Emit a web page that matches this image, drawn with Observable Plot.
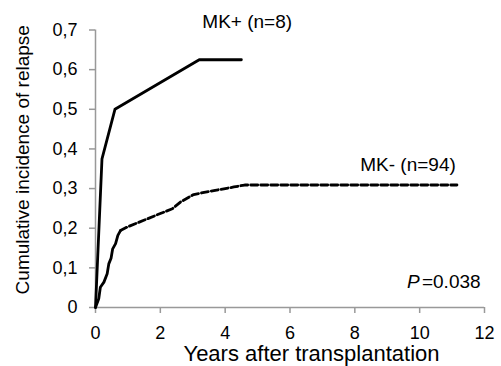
<!DOCTYPE html>
<html><head><meta charset="utf-8">
<script src="https://cdn.jsdelivr.net/npm/d3@7"></script>
<script src="https://cdn.jsdelivr.net/npm/@observablehq/plot@0.6"></script>
<style>body{margin:0;background:#fff} svg{display:block}</style>
</head><body><div id="chart"></div>
<script>
const mkPlusYears = [0, 0.2, 0.6, 3.2, 4.5];
const mkPlusCI    = [0, 0.375, 0.5, 0.625, 0.625];
const mkMinusYears = [0, 0.10, 0.15, 0.26, 0.36, 0.41, 0.48, 0.53, 0.62, 0.69, 0.77, 0.98, 1.49, 2.0, 2.37, 2.62, 3.03, 3.65, 4.27, 4.6, 11.15];
const mkMinusCI    = [0, 0.022, 0.051, 0.064, 0.085, 0.110, 0.124, 0.148, 0.161, 0.182, 0.194, 0.203, 0.220, 0.237, 0.249, 0.266, 0.285, 0.295, 0.304, 0.309, 0.309];
const xTicks = [0, 2, 4, 6, 8, 10, 12];
const yTicks = [0, 0.1, 0.2, 0.3, 0.4, 0.5, 0.6, 0.7];
const groupLabels = ["MK+ (n=8)", "MK- (n=94)"];
const groupLabelX = [4.68, 9.64];
const groupLabelY = [0.72, 0.359];
const pText = "=0.038";
const pX = 11.88, pY = 0.064;

const plus = mkPlusYears.map((x, i) => ({x, y: mkPlusCI[i]}));
const minus = mkMinusYears.map((x, i) => ({x, y: mkMinusCI[i]}));
const labels = groupLabels.map((t, i) => ({t, x: groupLabelX[i], y: groupLabelY[i]}));
const fmt = d => d === 0 ? "0" : d.toFixed(1).replace(".", ",");
const axisColor = "#999";
const font = "Liberation Sans, Arial, sans-serif";

const chart = Plot.plot({
  width: 501, height: 366,
  marginLeft: 95, marginRight: 17, marginTop: 29.5, marginBottom: 59,
  style: {fontFamily: font, color: "black", background: "white", overflow: "visible"},
  x: {domain: [0, 12]},
  y: {domain: [0, 0.7]},
  marks: [
    Plot.axisY({ticks: yTicks, tickFormat: fmt, tickSize: 6, tickPadding: 12, stroke: axisColor, strokeWidth: 1.5, fontSize: 18, label: null}),
    Plot.axisX({ticks: xTicks, tickFormat: d => String(d), tickSize: 6, tickPadding: 13, stroke: axisColor, strokeWidth: 1.5, fontSize: 18, label: null}),
    Plot.ruleX([0], {stroke: axisColor, strokeWidth: 1.5}),
    Plot.ruleY([0], {stroke: axisColor, strokeWidth: 1.5}),
    Plot.line(minus.filter(d => d.x <= 0.8), {x: "x", y: "y", stroke: "black", strokeWidth: 2.8}),
    Plot.line(minus.filter(d => d.x >= 0.77), {x: "x", y: "y", stroke: "black", strokeWidth: 2.8, strokeDasharray: "7,3"}),
    Plot.line(plus, {x: "x", y: "y", stroke: "black", strokeWidth: 2.8}),
    Plot.text(labels, {x: "x", y: "y", text: "t", fontSize: 19, fill: "black"}),
    Plot.text([pText], {x: () => pX, y: () => pY, text: d => d, textAnchor: "end", fontSize: 19, fill: "black"}),
    Plot.text(["P"], {x: () => pX, y: () => pY, text: d => d, textAnchor: "end", dx: -61, fontSize: 19, fontStyle: "italic", fill: "black"}),
    Plot.text(["Cumulative incidence of relapse"], {frameAnchor: "left", textAnchor: "middle", text: d => d, rotate: -90, dx: -73, dy: -9, fontSize: 19, fill: "black"}),
    Plot.text(["Years after transplantation"], {frameAnchor: "bottom", textAnchor: "middle", text: d => d, dx: 21.5, dy: 53, lineAnchor: "bottom", fontSize: 22, fill: "black"})
  ]
});
document.getElementById("chart").appendChild(chart);
</script></body></html>
